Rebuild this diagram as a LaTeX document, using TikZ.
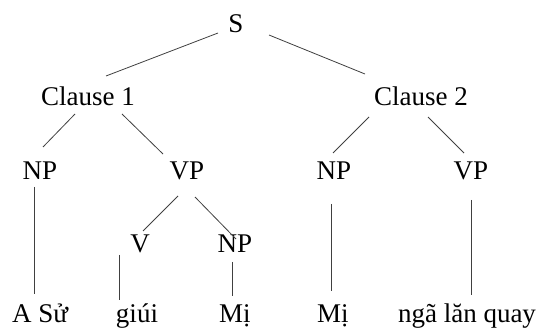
\documentclass[tikz,border=0pt]{standalone}
\usepackage{fontspec}
\setmainfont{Liberation Serif}
\usepackage{tikz}
\usetikzlibrary{calc,positioning}

\begin{document}
\begin{tikzpicture}[x=1pt, y=-1pt]
          \tikzstyle{tnode} = [inner sep = 0pt, anchor = base, font=\fontsize{27}{32}\selectfont]
          \tikzstyle{edge} = [draw=black!75, line width = 0.8pt]
          \useasboundingbox (0,0) rectangle (542,329);

          % tree
          \node[tnode] (s) at (236, 33) {S};
          \node[tnode] (c1) at (88, 106) {Clause 1};
          \node[tnode] (c2) at (421, 106) {Clause 2};
          \node[tnode] (np1) at (40, 179) {NP};
          \node[tnode] (vp1) at (187, 179) {VP};
          \node[tnode] (np2) at (334, 179) {NP};
          \node[tnode] (vp2) at (471, 179) {VP};
          \node[tnode] (v) at (140, 253) {V};
          \node[tnode] (np3) at (235, 253) {NP};

          % words
          \node[tnode] (asu) at (40, 322) {A Sử};
          \node[tnode] (giui) at (137, 322) {giúi};
          \node[tnode] (mi1) at (235, 322) {Mị};
          \node[tnode] (mi2) at (333, 322) {Mị};
          \node[tnode] (nga) at (467, 322) {ngã lăn quay};

          \draw[edge] ([shift={(-18,0)}]s.base) -- ([shift={(18,-30)}]c1.base);
          \draw[edge] ([shift={(33,2)}]s.base) -- ([shift={(-56,-32)}]c2.base);
          \draw[edge] ([shift={(-13,8)}]c1.base) -- ([shift={(3,-32)}]np1.base);
          \draw[edge] ([shift={(34,8)}]c1.base) -- ([shift={(-24,-25)}]vp1.base);
          \draw[edge] ([shift={(-52,11)}]c2.base) -- ([shift={(-1,-26)}]np2.base);
          \draw[edge] ([shift={(7,11)}]c2.base) -- ([shift={(-7,-26)}]vp2.base);
          \draw[edge] ([shift={(-9,17)}]vp1.base) -- ([shift={(3,-22)}]v.base);
          \draw[edge] ([shift={(8,18)}]vp1.base) -- ([shift={(1,-14)}]np3.base);
          \draw[edge] ([shift={(-6,8)}]np1.base) -- ([shift={(-6,-28)}]asu.base);
          \draw[edge] ([shift={(-21,2)}]v.base) -- ([shift={(-18,-22)}]giui.base);
          \draw[edge] ([shift={(-3,9)}]np3.base) -- ([shift={(-3,-26)}]mi1.base);
          \draw[edge] ([shift={(-3,25)}]np2.base) -- ([shift={(-2,-31)}]mi2.base);
          \draw[edge] ([shift={(0,21)}]vp2.base) -- ([shift={(4,-27)}]nga.base);
        \end{tikzpicture}
\end{document}
